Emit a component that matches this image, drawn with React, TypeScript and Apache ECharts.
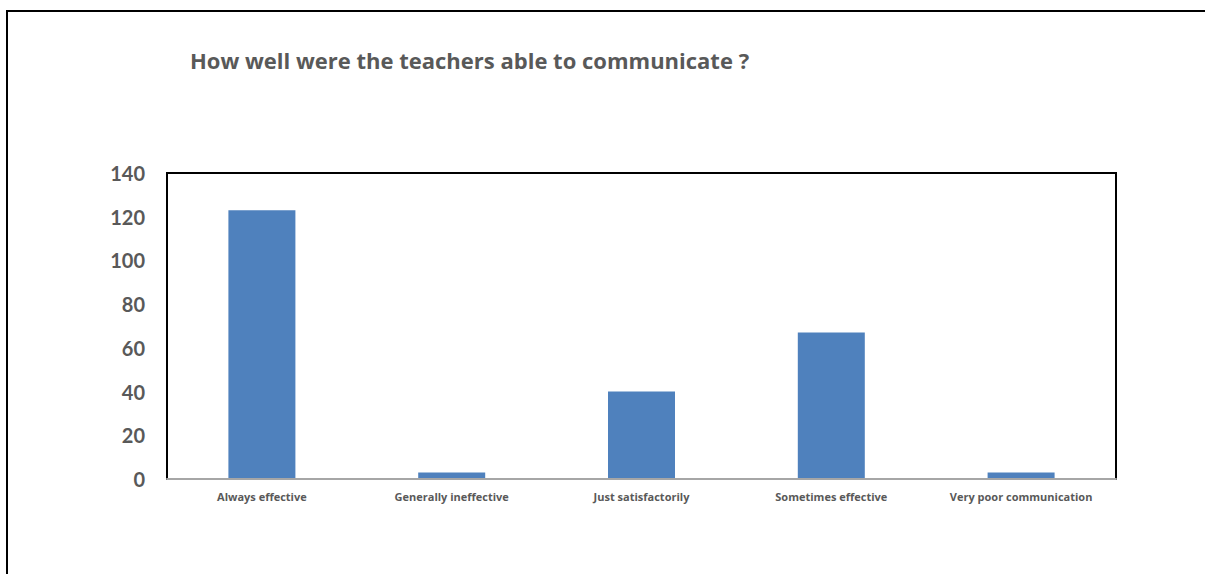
import React, { useEffect, useRef } from "react";
import * as echarts from "echarts";

const categories = [
  "Always effective",
  "Generally ineffective",
  "Just satisfactorily",
  "Sometimes effective",
  "Very poor communication",
];
const counts = [123, 3, 40, 67, 3];
const yTicks = { min: 0, max: 140, interval: 20 };
const titleText = "How well were the teachers able to communicate ?";

const FONT = "Lato, 'Open Sans', sans-serif";
const WIDE = "'Open Sans', Lato, sans-serif";
const GRAY = "#595959";

export default function App() {
  const ref = useRef<HTMLDivElement>(null);
  useEffect(() => {
    if (!ref.current) return;
    const chart = echarts.init(ref.current, undefined, { renderer: "svg" });
    chart.setOption({
      animation: false,
      backgroundColor: "#ffffff",
      title: {
        text: titleText,
        left: 185,
        top: 44,
        textStyle: {
          fontFamily: WIDE,
          fontSize: 22,
          fontWeight: "bold",
          color: GRAY,
        },
      },
      graphic: [
        {
          type: "polyline",
          shape: { points: [[7, 574], [7, 11], [1205, 11]] },
          style: { stroke: "#000", lineWidth: 2, fill: null },
          silent: true,
        },
      ],
      grid: {
        left: 167,
        top: 173,
        right: 89,
        bottom: 95,
        show: true,
        borderColor: "#000",
        borderWidth: 2,
        backgroundColor: "transparent",
      },
      xAxis: {
        type: "category",
        data: categories,
        axisLine: { show: true, lineStyle: { color: "#a6a6a6", width: 2 } },
        axisTick: { show: false },
        axisLabel: {
          interval: 0,
          margin: 12,
          fontFamily: WIDE,
          fontSize: 11,
          fontWeight: "bold",
          color: GRAY,
        },
        splitLine: { show: false },
        z: 5,
      },
      yAxis: {
        type: "value",
        min: yTicks.min,
        max: yTicks.max,
        interval: yTicks.interval,
        axisLine: { show: false },
        axisTick: { show: false },
        splitLine: { show: false },
        axisLabel: {
          margin: 22,
          fontFamily: FONT,
          fontSize: 20,
          fontWeight: "bold",
          color: GRAY,
        },
      },
      series: [
        {
          type: "bar",
          data: counts,
          barWidth: 67,
          itemStyle: { color: "#4f81bd" },
        },
      ],
    });
    return () => chart.dispose();
  }, []);
  return (
    <div
      ref={ref}
      style={{ position: "fixed", left: 0, top: 0, width: 1205, height: 574 }}
    />
  );
}
